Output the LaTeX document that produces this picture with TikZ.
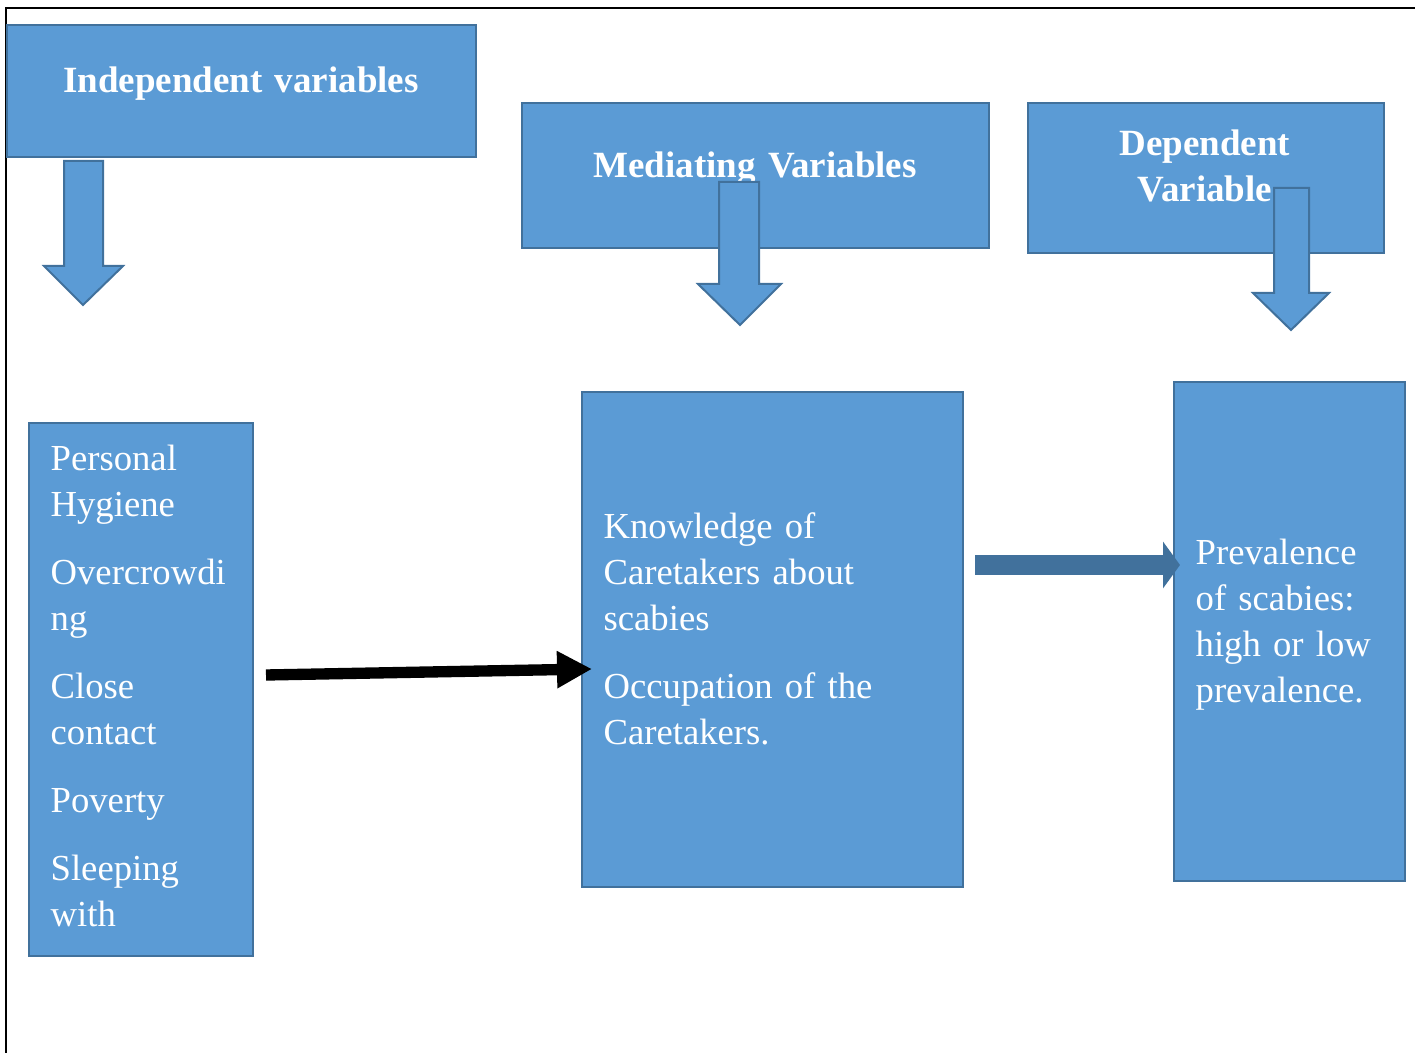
\documentclass[tikz,border=0pt]{standalone}
\usepackage{fontspec}
\setmainfont{Liberation Serif}
\usetikzlibrary{arrows.meta,fit}

\definecolor{boxblue}{HTML}{5B9BD5}
\definecolor{edgeblue}{HTML}{41719C}

\tikzset{
  varbox/.style={draw=edgeblue, fill=boxblue, line width=0.6pt, inner sep=0pt},
  headtext/.style={text=white, inner sep=0pt, anchor=base, align=center,
    text width=150pt, font=\bfseries\fontsize{11.1}{13.8}\selectfont},
  bodytext/.style={text=white, inner sep=0pt, anchor=base west, align=left,
    text width=100pt, font=\fontsize{11}{13.8}\selectfont},
  downarrow/.style={draw=edgeblue, fill=boxblue, line width=0.6pt},
}

\begin{document}
\begin{tikzpicture}[x=0.3pt,y=-0.3pt]
\useasboundingbox (0,0) rectangle (1415,1053);

% frame
\draw [line width=0.75pt] (6,1053) -- (6,8) -- (1415,8);

% headings
\node [varbox, fit={(7,25) (476,157)}] (iv) {};
\node [headtext] (ivt) at (241,93) {Independent variables};

\node [varbox, fit={(522,103) (989,248)}] (mv) {};
\node [headtext] (mvt) at (755,178) {Mediating Variables};

\node [varbox, fit={(1028,103) (1384,253)}] (dv) {};
\node [headtext] (dvt) at (1205,156) {Dependent\\Variable};

% block arrows
\draw [downarrow] (64,161) -- (103,161) -- (103,266) -- (123,266) -- (83,305)
   -- (44,266) -- (64,266) -- cycle;
\draw [downarrow] (719,182) -- (759,182) -- (759,284) -- (781,284) -- (740,325)
   -- (698,284) -- (719,284) -- cycle;
\draw [downarrow] (1274,188) -- (1309,188) -- (1309,293) -- (1329,293) -- (1291,330)
   -- (1253,293) -- (1274,293) -- cycle;

% variable boxes
\node [varbox, fit={(29,423) (253,956)}] (left) {};
\node [bodytext] (leftt) at (50,471) {Personal\\Hygiene\\[6.6pt]
  Overcrowdi\\ng\\[6.6pt]
  Close\\contact\\[6.6pt]
  Poverty\\[6.6pt]
  Sleeping\\with};

\node [varbox, fit={(582,392) (963,887)}] (mid) {};
\node [bodytext] (midt) at (603,539) {Knowledge of\\Caretakers about\\scabies\\[6.6pt]
  Occupation of the\\Caretakers.};

\node [varbox, fit={(1174,382) (1405,881)}] (right) {};
\node [bodytext] (rightt) at (1195,565) {Prevalence\\of scabies:\\high or low\\prevalence.};

% connectors
\coordinate (a1) at (266,675);
\coordinate (a2) at (592,669);
\draw [line width=3.4pt, -{Triangle[length=10.5pt,width=10.5pt]}] (a1) -- (a2);

\coordinate (b1) at (975,565);
\coordinate (b2) at (1180,565);
\draw [edgeblue, line width=6pt, -{Triangle[length=5.1pt,width=13.8pt]}] (b1) -- (b2);
\end{tikzpicture}
\end{document}
